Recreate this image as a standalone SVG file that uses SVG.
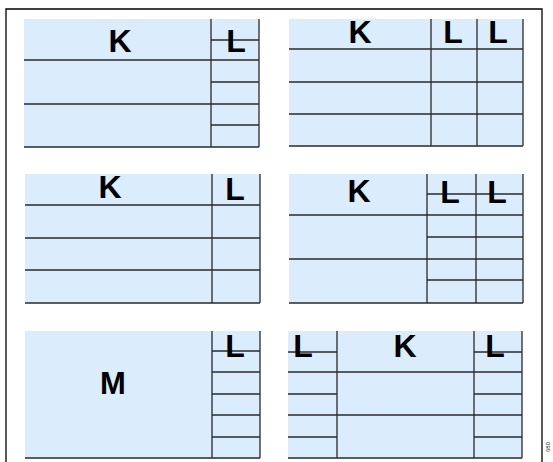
<svg xmlns="http://www.w3.org/2000/svg" width="553" height="462" viewBox="0 0 553 462">
<style>
.bg{fill:#dbecfd;stroke:none}
.ln{stroke:#2a2a2a;stroke-width:1.3;fill:none}
.t{font-family:"Liberation Sans",Arial,sans-serif;font-weight:bold;font-size:32px;fill:#000;text-anchor:middle}
.frame{stroke:#000;stroke-width:1.3;fill:none}
.tag{font-family:"Liberation Sans",Arial,sans-serif;font-size:6px;fill:#333}
</style>
<path class="frame" d="M6,462 V9 H542 V462"/>
<g id="panel1">
<rect class="bg" x="24" y="19" width="235" height="128"/>
<path class="ln" d="M24,60 H259 M24,104 H259 M24,147 H259 M259,19 V147 M211,19 V147 M211,40 H259 M211,82 H259 M211,125 H259"/>
<text class="t" x="120" y="52">K</text>
<text class="t" x="236" y="52">L</text>
</g>
<g id="panel2">
<rect class="bg" x="289" y="19" width="234" height="127"/>
<path class="ln" d="M289,49 H523 M289,82 H523 M289,114 H523 M289,146 H523 M523,19 V146 M431,19 V146 M477,19 V146"/>
<text class="t" x="360" y="43">K</text>
<text class="t" x="453" y="43">L</text>
<text class="t" x="498" y="43">L</text>
</g>
<g id="panel3">
<rect class="bg" x="25" y="174" width="235" height="129"/>
<path class="ln" d="M25,205 H260 M25,238 H260 M25,270 H260 M25,303 H260 M260,174 V303 M212,174 V303"/>
<text class="t" x="110" y="198">K</text>
<text class="t" x="235" y="200">L</text>
</g>
<g id="panel4">
<rect class="bg" x="289" y="174" width="234" height="129"/>
<path class="ln" d="M289,215 H523 M289,259 H523 M289,303 H523 M523,174 V303 M427,174 V303 M476,174 V303 M427,194 H523 M427,237 H523 M427,280 H523"/>
<text class="t" x="359" y="202">K</text>
<text class="t" x="450" y="203">L</text>
<text class="t" x="497" y="203">L</text>
</g>
<g id="panel5">
<rect class="bg" x="25" y="331" width="235" height="127"/>
<path class="ln" d="M25,458 H260 M260,331 V458 M212,331 V458 M212,351 H260 M212,372 H260 M212,394 H260 M212,415 H260 M212,437 H260"/>
<text class="t" x="113" y="394" style="font-size:31px">M</text>
<text class="t" x="235" y="357">L</text>
</g>
<g id="panel6">
<rect class="bg" x="288" y="331" width="234" height="127"/>
<path class="ln" d="M288,372 H522 M288,415 H522 M288,458 H522 M522,331 V458 M337,331 V458 M474,331 V458 M288,352 H337 M288,394 H337 M288,437 H337 M474,352 H522 M474,394 H522 M474,437 H522"/>
<text class="t" x="303" y="357">L</text>
<text class="t" x="405" y="357">K</text>
<text class="t" x="495" y="357">L</text>
</g>
<text class="tag" transform="translate(550,452) rotate(-90)">680</text>
</svg>
